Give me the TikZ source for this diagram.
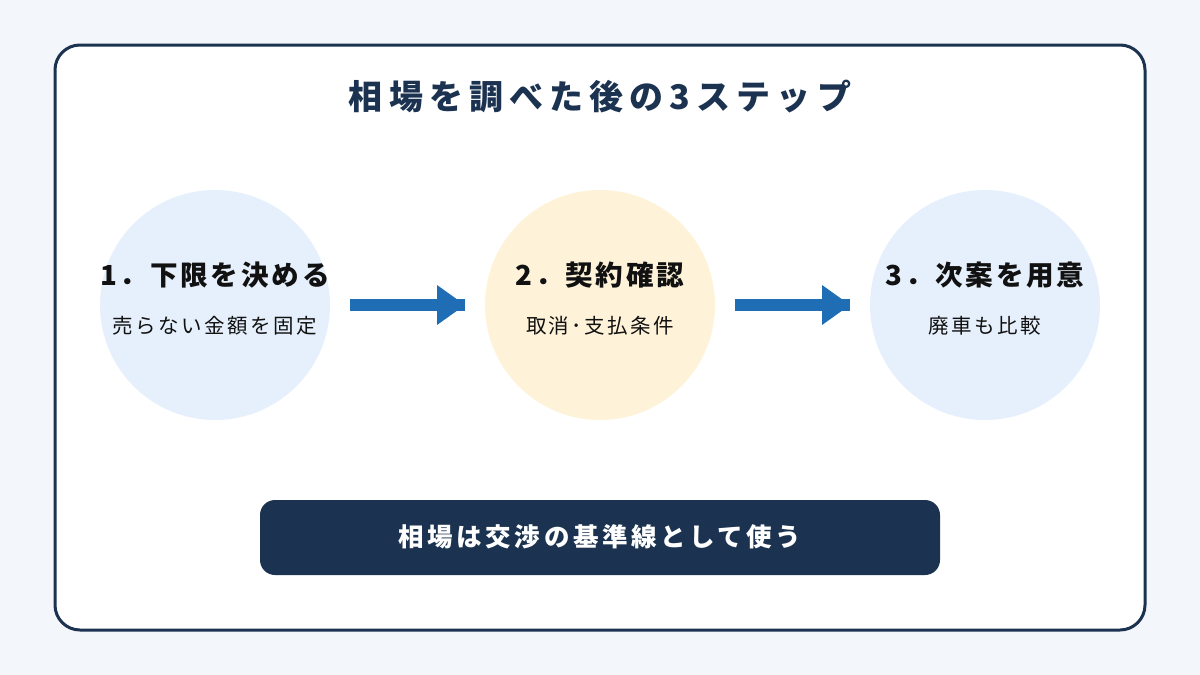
\documentclass[tikz,border=0pt]{standalone}
\usepackage{fontspec}
\usetikzlibrary{calc}
\setmainfont{Noto Sans CJK JP}
\newfontfamily\titlefont[LetterSpace=18]{Noto Sans CJK JP}
\newfontfamily\headfont[LetterSpace=10]{Noto Sans CJK JP}
\newfontfamily\subfont[LetterSpace=12]{Noto Sans CJK JP}
\newfontfamily\barfont[LetterSpace=14]{Noto Sans CJK JP}
\definecolor{pagebg}{HTML}{F3F6FB}
\definecolor{navy}{HTML}{1B3350}
\definecolor{lightblue}{HTML}{E6F0FC}
\definecolor{lightyellow}{HTML}{FEF3D9}
\definecolor{arrowblue}{HTML}{1F6DB5}
\definecolor{inktext}{HTML}{111111}
\tikzset{
  stepcircle/.style={circle, minimum size=230pt, inner sep=0pt},
  headtext/.style={font=\headfont\bfseries\fontsize{27.6}{32}\selectfont, text=inktext, inner sep=0pt},
  subtext/.style={font=\subfont\fontsize{20.5}{24}\selectfont, text=inktext, inner sep=0pt},
  arrowfill/.style={fill=arrowblue, draw=none},
}
\begin{document}
\begin{tikzpicture}[x=1pt,y=-1pt]
\useasboundingbox (0,0) rectangle (1200,675);
\fill[pagebg] (0,0) rectangle (1200,675);
\draw[navy, line width=3pt, fill=white, rounded corners=25pt] (55,45) rectangle (1145,630);
\node[font=\titlefont\bfseries\fontsize{34}{38}\selectfont, text=navy, inner sep=0pt] (title) at (600,97) {相場を調べた後の3ステップ};
% circles
\node[stepcircle, fill=lightblue] (c1) at (215,305) {};
\node[stepcircle, fill=lightyellow] (c2) at (600,305) {};
\node[stepcircle, fill=lightblue] (c3) at (985,305) {};
\node[headtext] (h1) at (215,275) {1．下限を決める};
\node[subtext] (s1) at (215,326) {売らない金額を固定};
\node[headtext] (h2) at (600,275) {2．契約確認};
\node[subtext] (s2) at (600,326) {取消･支払条件};
\node[headtext] (h3) at (985,275) {3．次案を用意};
\node[subtext] (s3) at (985,326) {廃車も比較};
% arrows
\coordinate (a1s) at (350,305);
\coordinate (a1e) at (465,305);
\coordinate (a2s) at (735,305);
\coordinate (a2e) at (850,305);
\foreach \s/\e in {a1s/a1e, a2s/a2e}{
  \fill[arrowfill] ($(\s)+(0,-6)$) rectangle ($(\e)+(0,6)$);
  \fill[arrowfill] ($(\e)+(-28,-20)$) -- (\e) -- ($(\e)+(-28,20)$) -- cycle;
}
% bottom bar
\node[fill=navy, rounded corners=15pt, minimum width=680pt, minimum height=75pt, inner sep=0pt] (bar) at (600,537.5) {};
\node[font=\barfont\bfseries\fontsize{25.5}{30}\selectfont, text=white, inner sep=0pt] (bartext) at (600,537) {相場は交渉の基準線として使う};
\end{tikzpicture}
\end{document}
